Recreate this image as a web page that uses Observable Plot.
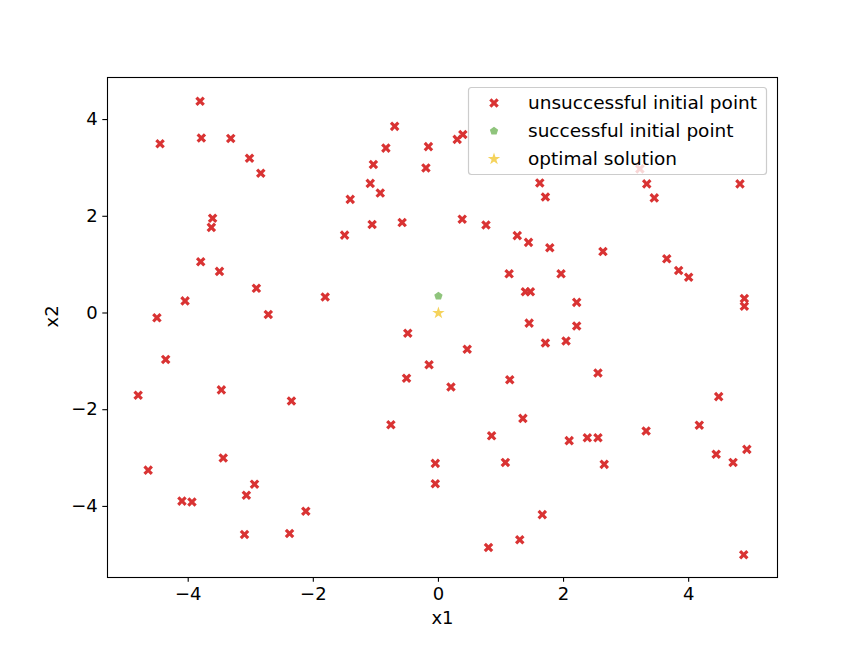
<!DOCTYPE html>
<html>
<head>
<meta charset="utf-8">
<script src="https://cdn.jsdelivr.net/npm/d3@7"></script>
<script src="https://cdn.jsdelivr.net/npm/@observablehq/plot@0.6"></script>
<style>
  html, body { margin: 0; padding: 0; background: #ffffff; }
  #chart { width: 863px; height: 648px; }
</style>
</head>
<body>
<div id="chart"></div>
<script>
// ---- data ----
const unsuccessfulX1 = [
  -3.81, -4.45, -3.79, -3.32, -3.02, -2.84, -3.61, -3.63, -3.80, -3.50, -2.91, -4.05, -1.81, -4.50, -2.72,
  -4.36, -4.80, -3.47, -2.35, -4.64, -3.44, -2.94, -3.07, -4.10, -3.94, -2.12, -3.10, -2.38,
  -0.70, -0.84, -1.04, -1.09, -0.93, -1.41, -1.06, -0.58, -1.50, -0.16, -0.20, 0.30, 0.39, 0.38, 0.76,
  1.62, 1.71, 1.26, 1.44, 1.78, 1.13, 1.96, 1.39, 1.47, 1.45,
  3.33, 3.45, 4.82, 3.22, 2.63, 3.65, 3.84, 4.00, 2.21, 2.21, 4.89, 4.89,
  2.04, 2.55, 4.48, 4.17, 3.32, 2.09, 2.38, 2.55, 2.65, 4.44, 4.71, 4.93, 4.88,
  1.71, -0.49, 0.46, -0.15, -0.51, 0.20, 1.14, -0.76, 1.35, 0.85, -0.05, 1.07, -0.05, 1.66, 1.30, 0.80
];
const unsuccessfulX2 = [
  4.38, 3.50, 3.62, 3.61, 3.20, 2.89, 1.96, 1.77, 1.06, 0.86, 0.51, 0.25, 0.33, -0.10, -0.03,
  -0.96, -1.70, -1.59, -1.82, -3.25, -3.00, -3.54, -3.77, -3.89, -3.91, -4.10, -4.58, -4.56,
  3.86, 3.41, 3.07, 2.68, 2.48, 2.35, 1.83, 1.87, 1.61, 3.44, 3.00, 3.59, 3.69, 1.94, 1.82,
  2.69, 2.40, 1.60, 1.46, 1.35, 0.81, 0.81, 0.44, 0.44, -0.21,
  2.67, 2.38, 2.67, 2.98, 1.27, 1.12, 0.88, 0.74, 0.22, -0.27, 0.30, 0.14,
  -0.58, -1.24, -1.73, -2.32, -2.44, -2.64, -2.58, -2.58, -3.13, -2.92, -3.09, -2.82, -5.00,
  -0.62, -0.42, -0.75, -1.07, -1.35, -1.53, -1.38, -2.31, -2.18, -2.54, -3.11, -3.09, -3.53, -4.17, -4.69, -4.85
];
const successfulX1 = [0.0];
const successfulX2 = [0.35];
const optimalX1 = [0.0];
const optimalX2 = [0.0];
const tickValues = [-4, -2, 0, 2, 4];
const seriesNames = ["unsuccessful initial point", "successful initial point", "optimal solution"];
const axisLabels = ["x1", "x2"];

// ---- styling ----
const RED = "#d93333";
const GREEN = "#8fc47c";
const YELLOW = "#f5d35c";
const FONT = "DejaVu Sans";

// custom filled "X" marker (matplotlib style)
const symbolX = {
  draw(ctx, size) {
    const r = Math.sqrt(size / Math.PI);
    const L = r * 1.06, t = L / 3.3;
    const pts = [[t, t], [t, L], [-t, L], [-t, t], [-L, t], [-L, -t], [-t, -t], [-t, -L], [t, -L], [t, -t], [L, -t], [L, t]];
    const c = Math.SQRT1_2;
    pts.forEach(([x, y], i) => {
      const xr = (x - y) * c, yr = (x + y) * c;
      if (i === 0) ctx.moveTo(xr, yr); else ctx.lineTo(xr, yr);
    });
    ctx.closePath();
  }
};
// custom pentagon marker
const symbolPentagon = {
  draw(ctx, size) {
    const R = Math.sqrt(size / Math.PI) * 0.95;
    for (let i = 0; i < 5; i++) {
      const a = -Math.PI / 2 + i * 2 * Math.PI / 5;
      const x = R * Math.cos(a), y = R * Math.sin(a);
      if (i === 0) ctx.moveTo(x, y); else ctx.lineTo(x, y);
    }
    ctx.closePath();
  }
};

const unsuccessful = unsuccessfulX1.map((x, i) => ({x1: x, x2: unsuccessfulX2[i]}));
const successful = successfulX1.map((x, i) => ({x1: x, x2: successfulX2[i]}));
const optimal = optimalX1.map((x, i) => ({x1: x, x2: optimalX2[i]}));

const fmt = d => (d < 0 ? "\u2212" + Math.abs(d) : String(d));

const RX = 4.9, RP = 4.6, RS = 3.9;

const chart = Plot.plot({
  width: 863,
  height: 648,
  marginLeft: 107,
  marginRight: 86,
  marginTop: 77,
  marginBottom: 71,
  style: {fontFamily: FONT, fontSize: "18px", color: "#000", background: "#fff"},
  x: {domain: [-5.29, 5.42]},
  y: {domain: [-5.47, 4.87]},
  marks: [
    Plot.axisX({ticks: tickValues, tickFormat: fmt, tickSize: 4.7, tickPadding: 5, label: null, fontSize: 18, strokeWidth: 1.1}),
    Plot.axisY({ticks: tickValues, tickFormat: fmt, tickSize: 4.7, tickPadding: 5, label: null, fontSize: 18, strokeWidth: 1.1}),
    Plot.dot(unsuccessful, {x: "x1", y: "x2", symbol: symbolX, r: RX, fill: RED, stroke: "none"}),
    Plot.dot(successful, {x: "x1", y: "x2", symbol: symbolPentagon, r: RP, fill: GREEN, stroke: "none"}),
    Plot.dot(optimal, {x: "x1", y: "x2", symbol: "star", r: RS, fill: YELLOW, stroke: "none"}),
    Plot.frame({stroke: "#000", strokeWidth: 1.1}),
    Plot.text([axisLabels[0]], {frameAnchor: "bottom", dy: 46, text: d => d, fontSize: 18, fill: "#000"}),
    Plot.text([axisLabels[1]], {frameAnchor: "left", dx: -55, rotate: -90, text: d => d, fontSize: 18, fill: "#000"})
  ]
});
document.getElementById("chart").appendChild(chart);

// ---- legend (upper right, matplotlib style) ----
const svg = d3.select(chart);
const lg = svg.append("g").attr("font-family", FONT).attr("font-size", 18.5).attr("text-anchor", "start");
lg.append("rect")
  .attr("x", 468.5).attr("y", 87.5).attr("width", 298).attr("height", 87)
  .attr("rx", 3).attr("ry", 3)
  .attr("fill", "rgba(255,255,255,0.8)").attr("stroke", "#cccccc").attr("stroke-width", 1.2);
const legendSymbols = [symbolX, symbolPentagon, d3.symbolStar];
const legendColors = [RED, GREEN, YELLOW];
const legendR = [RX, RP, RS];
seriesNames.forEach((name, i) => {
  const cy = 103 + i * 28;
  lg.append("path")
    .attr("transform", `translate(494,${cy})`)
    .attr("d", d3.symbol(legendSymbols[i], Math.PI * legendR[i] * legendR[i])())
    .attr("fill", legendColors[i]);
  lg.append("text")
    .attr("x", 528).attr("y", cy).attr("dy", "0.35em")
    .attr("text-anchor", "start")
    .attr("fill", "#000")
    .text(name);
});
</script>
</body>
</html>
